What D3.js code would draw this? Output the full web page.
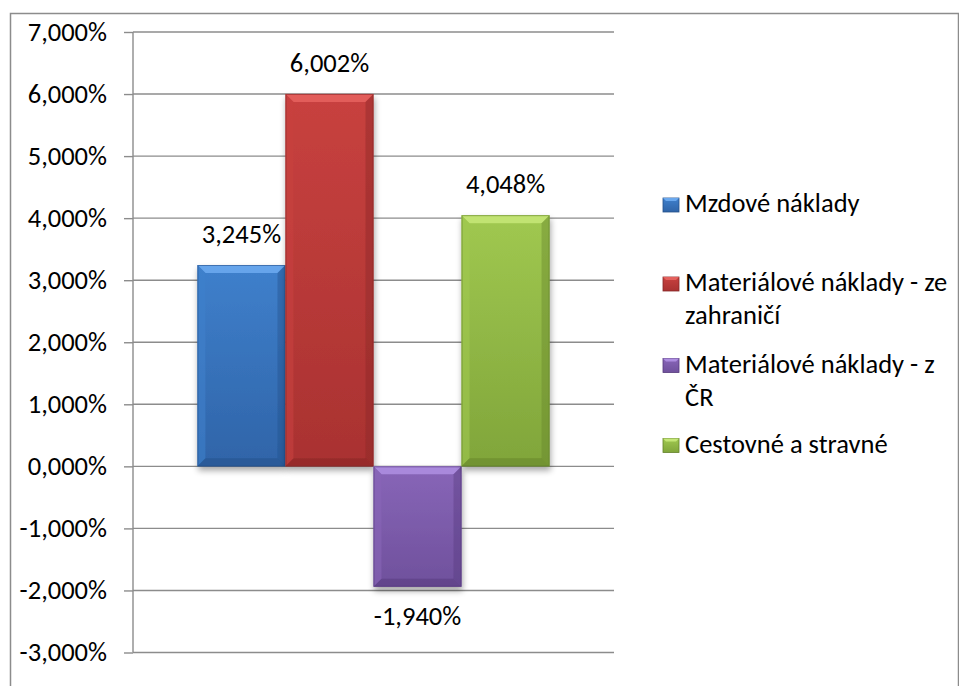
<!DOCTYPE html>
<html>
<head>
<meta charset="utf-8">
<script src="https://cdn.jsdelivr.net/npm/d3@7"></script>
<style>
  html, body { margin: 0; padding: 0; background: #fff; }
  svg { display: block; }
  text { font-family: Calibri, Carlito, Lato, sans-serif; fill: #000; }
</style>
</head>
<body>
<svg id="chart" width="959" height="686"></svg>
<script>
// Cost growth by item (%)
const series = ["Mzdové náklady", "Materiálové náklady - ze zahraničí", "Materiálové náklady - z ČR", "Cestovné a stravné"];
const values = [3.245, 6.002, -1.940, 4.048];
const legendLines = [["Mzdové náklady"], ["Materiálové náklady - ze", "zahraničí"], ["Materiálové náklady - z", "ČR"], ["Cestovné a stravné"]];
const yTicks = [7, 6, 5, 4, 3, 2, 1, 0, -1, -2, -3];

// face / top-light / dark-edge colours per series
const colors = [
  { face1: "#3f80cc", face2: "#2f64a8", light: "#6aa8ee", dark: "#24508a" },
  { face1: "#c8413f", face2: "#a93231", light: "#e4615d", dark: "#862626" },
  { face1: "#8866b8", face2: "#6f509c", light: "#ad8de0", dark: "#55397c" },
  { face1: "#a0c850", face2: "#80a53a", light: "#c4e676", dark: "#63822a" }
];

const FS = "26.5px";
// Czech number style: decimal comma, plain hyphen for minus
const fmt = v => d3.format(".3f")(v).replace("\u2212", "-").replace(".", ",") + "%";

const svg = d3.select("#chart");
const defs = svg.append("defs");

const plot = { left: 133, right: 614, top: 32, bottom: 652.5 };
const y = d3.scaleLinear().domain([-3, 7]).range([plot.bottom, plot.top]);

const group = d3.scaleBand().domain(["all"]).range([plot.left, plot.right]).paddingOuter(0.183).paddingInner(0);
const x = d3.scaleBand().domain(series).range([group("all"), group("all") + group.bandwidth()]).padding(0);

// gradients + shadow filter
colors.forEach((c, i) => {
  const g = defs.append("linearGradient").attr("id", "face" + i).attr("x1", 0).attr("y1", 0).attr("x2", 0).attr("y2", 1);
  g.append("stop").attr("offset", "0%").attr("stop-color", c.face1);
  g.append("stop").attr("offset", "100%").attr("stop-color", c.face2);
});
const f = defs.append("filter").attr("id", "shadow").attr("x", "-20%").attr("y", "-20%").attr("width", "140%").attr("height", "140%");
f.append("feGaussianBlur").attr("in", "SourceAlpha").attr("stdDeviation", 3);
f.append("feOffset").attr("dx", 1).attr("dy", 4).attr("result", "off");
f.append("feComponentTransfer").append("feFuncA").attr("type", "linear").attr("slope", 0.35);
const fm = f.append("feMerge");
fm.append("feMergeNode");
fm.append("feMergeNode").attr("in", "SourceGraphic");

// outer frame
svg.append("rect").attr("x", 10.5).attr("y", 13.5).attr("width", 948).attr("height", 700)
  .attr("fill", "none").attr("stroke", "#8c8c8c").attr("stroke-width", 1.5);

// gridlines
svg.append("g").selectAll("line").data(yTicks).join("line")
  .attr("x1", plot.left).attr("x2", plot.right)
  .attr("y1", d => y(d)).attr("y2", d => y(d))
  .attr("stroke", "#8c8c8c").attr("stroke-width", 1.4);

// y axis
const yAxis = d3.axisLeft(y).tickValues(yTicks).tickSize(9).tickPadding(17).tickFormat(fmt);
const ax = svg.append("g").attr("transform", `translate(${plot.left},0)`).call(yAxis);
ax.select(".domain").attr("stroke", "#8c8c8c").attr("stroke-width", 1.4).attr("d", `M0,${plot.top}V${plot.bottom}`);
ax.selectAll(".tick line").attr("stroke", "#8c8c8c").attr("stroke-width", 1.4);
ax.selectAll(".tick text").style("font-family", "Calibri, Carlito, Lato, sans-serif").style("font-size", FS).attr("fill", "#000");

// bars with bevel
const bev = 8;
const bars = svg.append("g").selectAll("g").data(values).join("g").attr("filter", "url(#shadow)");
bars.each(function (v, i) {
  const g = d3.select(this);
  const x0 = x(series[i]), w = x.bandwidth();
  const yt = Math.min(y(v), y(0)), yb = Math.max(y(v), y(0));
  const x1 = x0 + w, c = colors[i];
  g.append("rect").attr("x", x0).attr("y", yt).attr("width", w).attr("height", yb - yt).attr("fill", `url(#face${i})`);
  // top bevel
  g.append("path").attr("d", `M${x0},${yt}L${x1},${yt}L${x1 - bev},${yt + bev}L${x0 + bev},${yt + bev}Z`).attr("fill", c.light).attr("opacity", 0.9);
  // left bevel
  g.append("path").attr("d", `M${x0},${yt}L${x0 + bev},${yt + bev}L${x0 + bev},${yb - bev}L${x0},${yb}Z`).attr("fill", c.face1).attr("opacity", 0.6);
  // right bevel
  g.append("path").attr("d", `M${x1},${yt}L${x1 - bev},${yt + bev}L${x1 - bev},${yb - bev}L${x1},${yb}Z`).attr("fill", c.dark).attr("opacity", 0.4);
  // bottom bevel
  g.append("path").attr("d", `M${x0},${yb}L${x0 + bev},${yb - bev}L${x1 - bev},${yb - bev}L${x1},${yb}Z`).attr("fill", c.dark).attr("opacity", 0.5);
  g.append("rect").attr("x", x0 + 0.5).attr("y", yt + 0.5).attr("width", w - 1).attr("height", yb - yt - 1)
    .attr("fill", "none").attr("stroke", c.dark).attr("stroke-opacity", 0.6).attr("stroke-width", 1);
});

// data labels
svg.append("g").selectAll("text").data(values).join("text")
  .attr("x", (d, i) => x(series[i]) + x.bandwidth() / 2)
  .attr("y", d => d >= 0 ? y(d) - 22 : y(d) + 38)
  .attr("text-anchor", "middle")
  .style("font-size", FS)
  .text(d => fmt(d));

// legend
const legendBase = [212, 291, 372.5, 452.5];
const lg = svg.append("g");
legendLines.forEach((lines, i) => {
  const by = legendBase[i];
  const c = colors[i];
  const sq = lg.append("g");
  sq.append("rect").attr("x", 663).attr("y", by - 14).attr("width", 16).attr("height", 14).attr("fill", `url(#face${i})`)
    .attr("stroke", c.dark).attr("stroke-width", 0.8);
  sq.append("path").attr("d", `M663,${by - 14}L679,${by - 14}L676,${by - 11}L666,${by - 11}Z`).attr("fill", c.light);
  const t = lg.append("text").attr("x", 685).attr("y", by).style("font-size", FS);
  lines.forEach((l, k) => t.append("tspan").attr("x", 685).attr("dy", k === 0 ? 0 : 33).text(l));
});
</script>
</body>
</html>
